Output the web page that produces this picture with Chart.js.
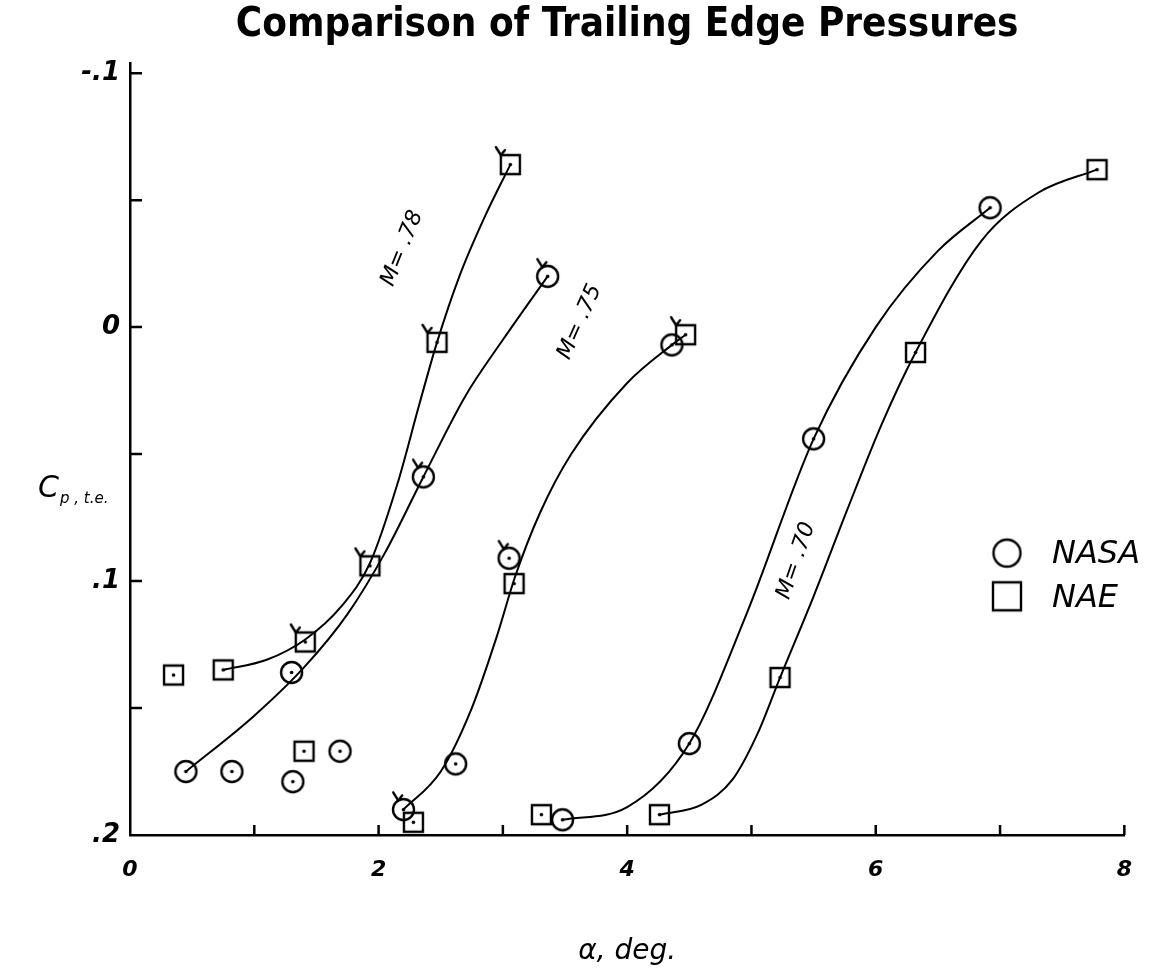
<!DOCTYPE html>
<html>
<head>
<meta charset="utf-8">
<script src="https://cdn.jsdelivr.net/npm/chart.js@4.4.0/dist/chart.umd.min.js"></script>
<style>
html, body { margin: 0; padding: 0; background: #fff; }
</style>
</head>
<body>
<canvas id="chart" width="1154" height="978"></canvas>
<script>
// measured points (alpha, Cp t.e.); flag = symbol drawn with a tail
const nasa78X = [0.45, 0.82, 1.30, 1.31, 1.69, 2.36, 3.36];
const nasa78Y = [0.175, 0.175, 0.136, 0.179, 0.167, 0.059, -0.020];
const nasa78Flag = [0, 0, 0, 0, 0, 1, 1];
const nae78X = [0.35, 0.75, 1.41, 1.40, 1.93, 2.47, 3.06];
const nae78Y = [0.137, 0.135, 0.124, 0.167, 0.094, 0.006, -0.064];
const nae78Flag = [0, 0, 1, 0, 1, 1, 1];
const nasa75X = [2.20, 2.62, 3.05, 4.36];
const nasa75Y = [0.190, 0.172, 0.091, 0.007];
const nasa75Flag = [1, 0, 1, 0];
const nae75X = [2.28, 3.09, 4.47];
const nae75Y = [0.195, 0.101, 0.003];
const nae75Flag = [0, 0, 1];
const nasa70X = [3.48, 4.50, 5.50, 6.92];
const nasa70Y = [0.194, 0.164, 0.044, -0.047];
const nasa70Flag = [0, 0, 0, 0];
const nae70X = [3.31, 4.26, 5.23, 6.32, 7.78];
const nae70Y = [0.192, 0.192, 0.138, 0.010, -0.062];
const nae70Flag = [0, 0, 0, 0, 0];

// faired curves
const curveNae78X = [0.75, 1.10, 1.41, 1.70, 1.93, 2.15, 2.33, 2.47, 2.65, 2.85, 3.06];
const curveNae78Y = [0.135, 0.131, 0.123, 0.110, 0.093, 0.062, 0.030, 0.006, -0.020, -0.043, -0.064];
const curveNasa78X = [0.45, 1.00, 1.40, 1.75, 2.05, 2.36, 2.70, 3.00, 3.36];
const curveNasa78Y = [0.175, 0.153, 0.134, 0.113, 0.089, 0.059, 0.027, 0.005, -0.020];
const curve75X = [2.20, 2.50, 2.75, 2.95, 3.10, 3.30, 3.55, 4.00, 4.36, 4.47];
const curve75Y = [0.190, 0.175, 0.150, 0.122, 0.098, 0.073, 0.050, 0.022, 0.007, 0.003];
const curveNasa70X = [3.48, 4.00, 4.50, 4.96, 5.50, 6.00, 6.50, 6.92];
const curveNasa70Y = [0.194, 0.189, 0.164, 0.113, 0.044, 0.000, -0.030, -0.047];
const curveNae70X = [4.26, 4.60, 4.85, 5.05, 5.23, 5.50, 5.77, 6.05, 6.32, 6.85, 7.31, 7.78];
const curveNae70Y = [0.192, 0.188, 0.178, 0.160, 0.138, 0.106, 0.072, 0.038, 0.010, -0.034, -0.053, -0.062];

const xTickValues = [0, 1, 2, 3, 4, 5, 6, 7, 8];
const xTickLabels = ['0', '', '2', '', '4', '', '6', '', '8'];
const yTickValues = [-0.1, -0.05, 0, 0.05, 0.1, 0.15, 0.2];
const yTickLabels = ['-.1', '', '0', '', '.1', '', '.2'];

const machNotes = [
    { text: 'M= .78', x: 2.19, y: -0.031, angle: -68 },
    { text: 'M= .75', x: 3.62, y: -0.002, angle: -66 },
    { text: 'M= .70', x: 5.36, y: 0.092, angle: -71 }
];

const hand = 'DejaVu Sans';

function toPoints(xs, ys) {
    return xs.map((x, i) => ({ x, y: ys[i] }));
}

function makeMarker(shape, size, dot, tail) {
    const c = document.createElement('canvas');
    c.width = size + 24;
    c.height = size + 24;
    const g = c.getContext('2d');
    const m = c.width / 2;
    const h = size / 2;
    g.strokeStyle = '#000';
    g.lineWidth = 2.4;
    g.lineCap = 'round';
    g.beginPath();
    if (shape === 'circle') {
        g.arc(m, m, h, 0, Math.PI * 2);
    } else {
        g.rect(m - h, m - h, size, size);
    }
    g.stroke();
    if (tail) {
        const tx = shape === 'circle' ? m - h * 0.5 : m - h;
        const ty = shape === 'circle' ? m - h * 0.87 : m - h;
        g.beginPath();
        g.moveTo(tx, ty);
        g.lineTo(tx - 5, ty - 8);
        g.moveTo(tx, ty);
        g.lineTo(tx + 4, ty - 5);
        g.stroke();
    }
    if (dot) {
        g.fillStyle = '#000';
        g.beginPath();
        g.arc(m, m, 1.8, 0, Math.PI * 2);
        g.fill();
    }
    return c;
}

const circleMark = makeMarker('circle', 21, true, false);
const squareMark = makeMarker('square', 19, true, false);
const circleFlag = makeMarker('circle', 21, true, true);
const squareFlag = makeMarker('square', 19, true, true);
const circleKey = makeMarker('circle', 27, false, false);
const squareKey = makeMarker('square', 28, false, false);

function pointSet(label, xs, ys, flags) {
    const isNasa = label === 'NASA';
    return {
        label,
        data: toPoints(xs, ys),
        pointStyle: flags.map(f => isNasa ? (f ? circleFlag : circleMark) : (f ? squareFlag : squareMark)),
        showLine: false,
        order: 0
    };
}

function curveSet(xs, ys) {
    return {
        label: 'curve',
        data: toPoints(xs, ys),
        showLine: true,
        borderColor: '#000',
        borderWidth: 2,
        pointRadius: 0,
        cubicInterpolationMode: 'monotone',
        order: 1
    };
}

const inwardTicks = {
    id: 'inwardTicks',
    afterDraw(chart) {
        const { ctx, scales: { x, y } } = chart;
        ctx.save();
        ctx.strokeStyle = '#000';
        ctx.lineWidth = 2.5;
        ctx.beginPath();
        x.ticks.forEach(t => {
            if (t.value === 0) return;
            const px = x.getPixelForValue(t.value);
            ctx.moveTo(px, x.top);
            ctx.lineTo(px, x.top - 10);
        });
        y.ticks.forEach(t => {
            if (t.value === 0.2) return;
            const py = y.getPixelForValue(t.value);
            ctx.moveTo(y.right, py);
            ctx.lineTo(y.right + 12, py);
        });
        ctx.stroke();
        ctx.restore();
    }
};

const notes = {
    id: 'notes',
    afterDraw(chart) {
        const { ctx, scales: { x, y } } = chart;
        ctx.save();
        ctx.fillStyle = '#000';
        ctx.textAlign = 'center';
        ctx.textBaseline = 'middle';

        machNotes.forEach(n => {
            ctx.save();
            ctx.translate(x.getPixelForValue(n.x), y.getPixelForValue(n.y));
            ctx.rotate(n.angle * Math.PI / 180);
            ctx.font = `italic 22px "${hand}"`;
            ctx.fillText(n.text, 0, 0);
            ctx.restore();
        });

        // y axis title
        const ty = y.getPixelForValue(0.064);
        ctx.textAlign = 'left';
        ctx.font = `italic 30px "${hand}"`;
        ctx.fillText('C', 38, ty);
        ctx.font = `italic 15px "${hand}"`;
        ctx.fillText('p , t.e.', 60, ty + 9);

        // key
        const kx = 1007;
        const rows = [
            { mark: circleKey, text: 'NASA', y: y.getPixelForValue(0.089) },
            { mark: squareKey, text: 'NAE', y: y.getPixelForValue(0.106) }
        ];
        ctx.font = `italic 32px "${hand}"`;
        rows.forEach(r => {
            ctx.drawImage(r.mark, kx - r.mark.width / 2, r.y - r.mark.height / 2);
            ctx.fillText(r.text, kx + 45, r.y + 2);
        });
        ctx.restore();
    }
};

const ctx = document.getElementById('chart').getContext('2d');

new Chart(ctx, {
    type: 'scatter',
    data: {
        datasets: [
            pointSet('NASA', nasa78X, nasa78Y, nasa78Flag),
            pointSet('NAE', nae78X, nae78Y, nae78Flag),
            pointSet('NASA', nasa75X, nasa75Y, nasa75Flag),
            pointSet('NAE', nae75X, nae75Y, nae75Flag),
            pointSet('NASA', nasa70X, nasa70Y, nasa70Flag),
            pointSet('NAE', nae70X, nae70Y, nae70Flag),
            curveSet(curveNae78X, curveNae78Y),
            curveSet(curveNasa78X, curveNasa78Y),
            curveSet(curve75X, curve75Y),
            curveSet(curveNasa70X, curveNasa70Y),
            curveSet(curveNae70X, curveNae70Y)
        ]
    },
    options: {
        responsive: false,
        animation: false,
        devicePixelRatio: 1,
        layout: { padding: { left: 0, right: 29, top: 0, bottom: 0 } },
        plugins: {
            legend: { display: false },
            tooltip: { enabled: false },
            title: {
                display: true,
                fullSize: false,
                text: 'Comparison of Trailing Edge Pressures',
                color: '#000',
                font: { family: 'DejaVu Sans Condensed', size: 40, weight: 'bold' },
                padding: { top: 2, bottom: 13 }
            }
        },
        scales: {
            x: {
                type: 'linear',
                min: 0,
                max: 8,
                afterBuildTicks: s => { s.ticks = xTickValues.map(v => ({ value: v })); },
                afterFit: s => { s.height = 143; },
                grid: { display: false, drawTicks: false },
                border: { display: true, color: '#000', width: 2.5 },
                ticks: {
                    color: '#000',
                    padding: 22,
                    maxRotation: 0,
                    autoSkip: false,
                    font: { family: hand, size: 22, style: 'italic', weight: 'bold' },
                    callback: (v, i) => xTickLabels[i]
                },
                title: {
                    display: true,
                    text: 'α, deg.',
                    color: '#000',
                    font: { family: hand, size: 28, style: 'italic' },
                    padding: { top: 0, bottom: 9 }
                }
            },
            y: {
                type: 'linear',
                reverse: true,
                min: -0.104,
                max: 0.2,
                afterBuildTicks: s => { s.ticks = yTickValues.map(v => ({ value: v })); },
                afterFit: s => { s.width = 130; },
                grid: { display: false, drawTicks: false },
                border: { display: true, color: '#000', width: 2.5 },
                ticks: {
                    color: '#000',
                    padding: 10,
                    autoSkip: false,
                    font: { family: hand, size: 26, style: 'italic', weight: 'bold' },
                    callback: (v, i) => yTickLabels[i]
                }
            }
        }
    },
    plugins: [inwardTicks, notes]
});
</script>
</body>
</html>
